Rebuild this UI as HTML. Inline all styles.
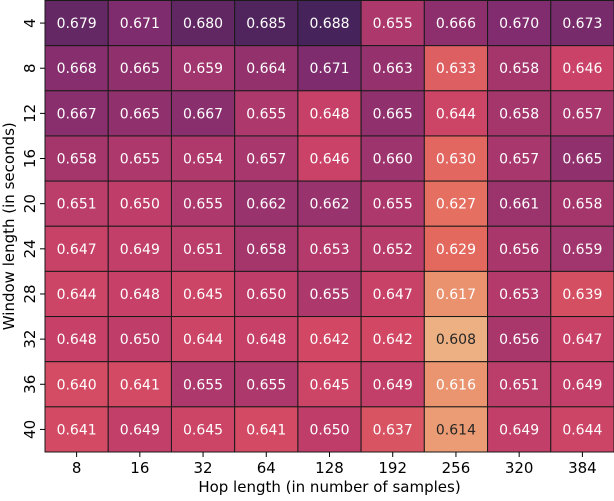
<!DOCTYPE html>
<html><head><meta charset="utf-8"><style>
body{margin:0;background:#fff;}
svg text{font-family:"DejaVu Sans","Liberation Sans",sans-serif;}
</style></head><body>
<svg id="chart" width="614" height="496" xmlns="http://www.w3.org/2000/svg"></svg>
<script>
const hopLabels=["8","16","32","64","128","192","256","320","384"];
const windowLabels=["4","8","12","16","20","24","28","32","36","40"];
const values=[
[0.679,0.671,0.680,0.685,0.688,0.655,0.666,0.670,0.673],
[0.668,0.665,0.659,0.664,0.671,0.663,0.633,0.658,0.646],
[0.667,0.665,0.667,0.655,0.648,0.665,0.644,0.658,0.657],
[0.658,0.655,0.654,0.657,0.646,0.660,0.630,0.657,0.665],
[0.651,0.650,0.655,0.662,0.662,0.655,0.627,0.661,0.658],
[0.647,0.649,0.651,0.658,0.653,0.652,0.629,0.656,0.659],
[0.644,0.648,0.645,0.650,0.655,0.647,0.617,0.653,0.639],
[0.648,0.650,0.644,0.648,0.642,0.642,0.608,0.656,0.647],
[0.640,0.641,0.655,0.655,0.645,0.649,0.616,0.651,0.649],
[0.641,0.649,0.645,0.641,0.650,0.637,0.614,0.649,0.644]];
const svg=document.getElementById('chart');
const NS="http://www.w3.org/2000/svg";
const L=45,T=0.5,R=614,B=452;
const cw=(R-L)/hopLabels.length, ch=(B-T)/windowLabels.length;
const vmin=0.608,vmax=0.688;
const stops=[[0,[236,176,130]],[0.11,[234,146,110]],[0.25,[228,108,95]],[0.42,[210,72,100]],[0.5,[198,64,104]],[0.59,[172,56,108]],[0.78,[128,44,110]],[1,[70,35,90]]];
function color(v){let t=Math.max(0,Math.min(1,(v-vmin)/(vmax-vmin)));
for(let i=1;i<stops.length;i++){if(t<=stops[i][0]){const a=stops[i-1],b=stops[i];const f=(t-a[0])/(b[0]-a[0]);
return 'rgb('+a[1].map((c,k)=>Math.round(c+(b[1][k]-c)*f)).join(',')+')';}}return 'rgb(70,35,90)';}
function xPos(j){return L+j*cw;}
function yPos(i){return T+i*ch;}
function el(tag,attrs){const e=document.createElementNS(NS,tag);for(const k in attrs)e.setAttribute(k,attrs[k]);svg.appendChild(e);return e;}
values.forEach((row,i)=>row.forEach((v,j)=>{
const r=el('rect',{x:xPos(j),y:yPos(i),width:cw,height:ch,fill:color(v),stroke:'#1a1a1a','stroke-width':1});


const t=el('text',{x:xPos(j)+cw/2,y:yPos(i)+ch/2+5,'text-anchor':'middle','font-size':14,fill:((v-vmin)/(vmax-vmin)<0.1)?'#262626':'#ffffff'});
t.textContent=v.toFixed(3);


}));
hopLabels.forEach((lab,j)=>{
const x=xPos(j)+cw/2;
const tk=el('line',{x1:x,x2:x,y1:B,y2:B+5,stroke:'#000'});


const t=el('text',{x:x,y:B+21,'text-anchor':'middle','font-size':15,fill:'#000'});
t.textContent=lab;


});
windowLabels.forEach((lab,i)=>{
const y=yPos(i)+ch/2;
const tk=el('line',{x1:L-5,x2:L,y1:y,y2:y,stroke:'#000'});


const t=el('text',{x:0,y:0,'text-anchor':'middle','font-size':15,fill:'#000',transform:'translate(35,'+y+') rotate(-90)'});
t.textContent=lab;


});
const xt=el('text',{x:(L+R)/2,y:492,'text-anchor':'middle','font-size':15,fill:'#000'});
xt.textContent='Hop length (in number of samples)';


const yt=el('text',{x:0,y:0,'text-anchor':'middle','font-size':15,fill:'#000',transform:'translate(14,'+(T+B)/2+') rotate(-90)'});
yt.textContent='Window length (in seconds)';


</script>
</body></html>
